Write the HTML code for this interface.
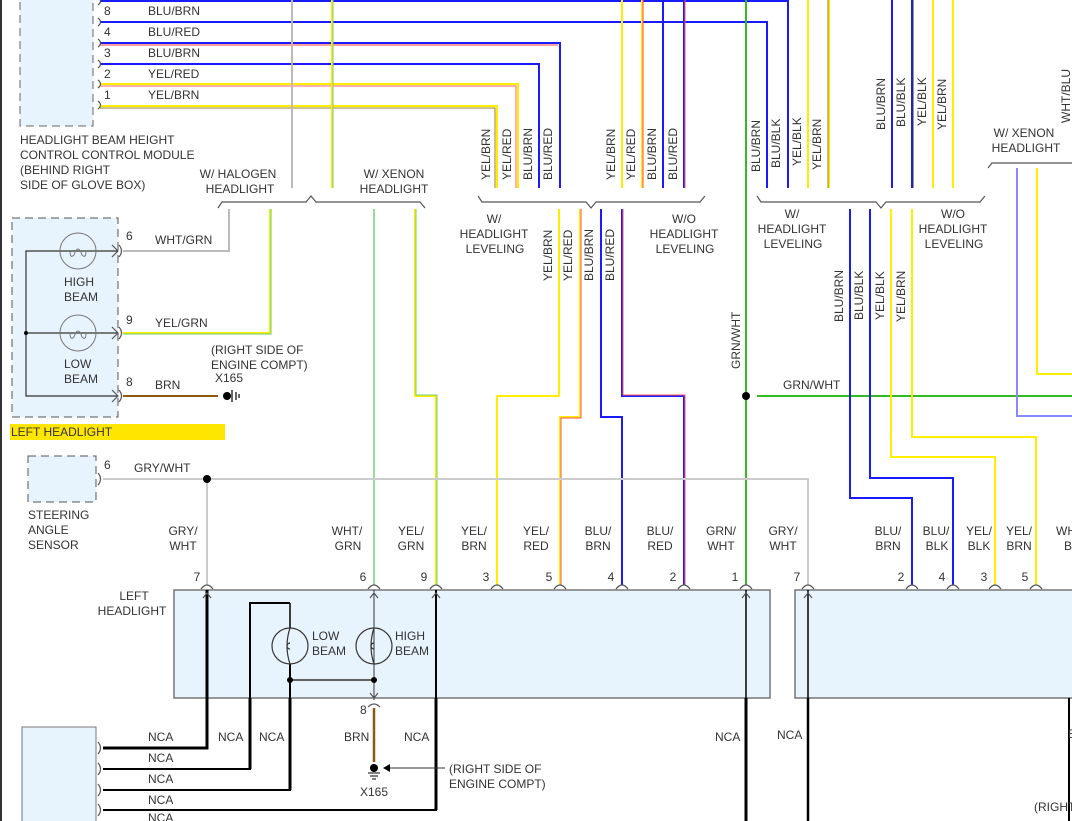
<!DOCTYPE html>
<html><head><meta charset="utf-8"><style>
html,body{margin:0;padding:0;background:#fff;}
svg{display:block;font-family:"Liberation Sans",sans-serif;font-size:12px;fill:#333;}
</style></head><body>
<svg width="1072" height="821" viewBox="0 0 1072 821" xmlns="http://www.w3.org/2000/svg">
<rect x="0" y="0" width="1072" height="821" fill="#fff"/>
<line x1="1" y1="0" x2="1" y2="821" stroke="#333" stroke-width="2"/>
<!-- boxes -->
<rect x="20" y="-2" width="73" height="128" fill="#e8f4fd" stroke="#666" stroke-dasharray="8,5"/>
<rect x="12" y="218" width="106" height="199" fill="#e8f4fd" stroke="#555" stroke-dasharray="8,5"/>
<rect x="28" y="456" width="68" height="46" fill="#e8f4fd" stroke="#555" stroke-dasharray="8,5"/>
<rect x="174" y="590" width="596" height="108" fill="#e8f4fd" stroke="#777" stroke-width="1.5"/>
<rect x="795" y="590" width="290" height="108" fill="#e8f4fd" stroke="#777" stroke-width="1.5"/>
<rect x="22" y="727" width="74" height="100" fill="#e8f4fd" stroke="#777"/>
<rect x="10" y="424" width="215" height="16" fill="#ffe600"/>
<g fill="none" stroke-width="2">
<!-- top horizontal wires -->
<polyline points="100,1 788,1 788,188" stroke="#1a1aff"/>
<polyline points="100,22 767,22 767,188" stroke="#1a1aff"/>
<polyline points="100,43 560,43 560,188" stroke="#1a1aff"/>
<polyline points="100,45 558,45" stroke="#ff4040" stroke-width="1"/>
<polyline points="100,64 539,64 539,188" stroke="#1a1aff"/>
<polyline points="100,84 518,84 518,188" stroke="#ffee00"/>
<polyline points="100,86 516,86 516,188" stroke="#ff6060" stroke-width="1"/>
<polyline points="100,106 497,106 497,188" stroke="#ffee00"/>
<polyline points="100,108 495,108 495,188" stroke="#a08020" stroke-width="1"/>
<line x1="292" y1="0" x2="292" y2="188" stroke="#bbb"/>
<line x1="332" y1="0" x2="332" y2="188" stroke="#ffee00"/>
<line x1="333" y1="0" x2="333" y2="188" stroke="#7c7" stroke-width="1"/>
<line x1="622" y1="0" x2="622" y2="188" stroke="#ffee00"/>
<line x1="642" y1="0" x2="642" y2="188" stroke="#ffee00"/>
<line x1="643" y1="0" x2="643" y2="188" stroke="#f44" stroke-width="1"/>
<line x1="663" y1="0" x2="663" y2="188" stroke="#1a1aff"/>
<line x1="684" y1="0" x2="684" y2="188" stroke="#1a1aff"/>
<line x1="685" y1="0" x2="685" y2="188" stroke="#f55" stroke-width="1"/>
<line x1="808" y1="0" x2="808" y2="188" stroke="#ffee00"/>
<line x1="829" y1="0" x2="829" y2="188" stroke="#ffee00"/>
<line x1="828" y1="0" x2="828" y2="188" stroke="#a08020" stroke-width="1"/>
<line x1="892" y1="0" x2="892" y2="188" stroke="#1a1aff"/>
<line x1="912" y1="0" x2="912" y2="188" stroke="#1a1aff"/>
<line x1="913" y1="0" x2="913" y2="188" stroke="#333" stroke-width="1"/>
<line x1="933" y1="0" x2="933" y2="188" stroke="#ffee00"/>
<line x1="953" y1="0" x2="953" y2="188" stroke="#ffee00"/>
<!-- green GRN/WHT -->
<line x1="746" y1="0" x2="746" y2="585" stroke="#33bb22"/>
<line x1="757" y1="396" x2="1072" y2="396" stroke="#33bb22"/>
<!-- halogen -->
<polyline points="229,209 229,251 123,251" stroke="#bbb"/>
<polyline points="270,209 270,333 123,333" stroke="#ffee00"/>
<polyline points="271,209 271,334 123,334" stroke="#6c6" stroke-width="1"/>
<polyline points="123,396 218,396" stroke="#8b5a10"/>
<!-- xenon -->
<line x1="374" y1="209" x2="374" y2="585" stroke="#99dd99"/>
<polyline points="415,209 415,396 436,396 436,585" stroke="#ffee00"/>
<polyline points="416,209 416,395 437,395 437,585" stroke="#7c7" stroke-width="1"/>
<!-- group 2 lower -->
<polyline points="559,209 559,396 497,396 497,585" stroke="#ffee00"/>
<polyline points="580,209 580,417 560,417 560,585" stroke="#ffee00"/>
<polyline points="581,209 581,418 561,418 561,585" stroke="#f55" stroke-width="1"/>
<polyline points="601,209 601,417 622,417 622,585" stroke="#1a1aff"/>
<polyline points="622,209 622,396 684,396 684,585" stroke="#1a1aff"/>
<polyline points="623,209 623,395 685,395 685,585" stroke="#f55" stroke-width="1"/>
<!-- group 3 lower -->
<polyline points="850,209 850,498 912,498 912,585" stroke="#1a1aff"/>
<polyline points="870,209 870,478 953,478 953,585" stroke="#1a1aff"/>
<polyline points="891,209 891,457 995,457 995,585" stroke="#ffee00"/>
<polyline points="912,209 912,437 1036,437 1036,585" stroke="#ffee00"/>
<polyline points="1017,168 1017,416 1072,416" stroke="#8888ff"/>
<polyline points="1037,168 1037,374 1072,374" stroke="#ffee00"/>
<!-- gry/wht -->
<polyline points="103,479 808,479 808,585" stroke="#ccc"/>
<line x1="207" y1="479" x2="207" y2="585" stroke="#ccc"/>
<!-- braces -->
<polyline points="218,208 222,202 306,202 311,196 316,202 420,202 425,208" stroke="#555" stroke-width="1.2"/>
<polyline points="478,196 482,202 586,202 591,208 596,202 700,202 705,196" stroke="#555" stroke-width="1.2"/>
<polyline points="757,196 761,202 876,202 881,208 886,202 980,202 985,196" stroke="#555" stroke-width="1.2"/>
<polyline points="988,168 992,163 1072,163" stroke="#555" stroke-width="1.2"/>
<!-- black wires bottom -->
<polyline points="207,590 207,748 103,748" stroke="#000" stroke-width="3"/>
<polyline points="290,603 250,603 250,769 103,769" stroke="#000" stroke-width="2"/>
<polyline points="290,603 290,628" stroke="#000" stroke-width="1.5"/>
<polyline points="290,664 290,790 103,790" stroke="#000" stroke-width="2"/>
<polyline points="436,590 436,810 103,810" stroke="#000" stroke-width="2"/>
<line x1="207" y1="698" x2="207" y2="748" stroke="#000" stroke-width="3"/>
<line x1="250" y1="698" x2="250" y2="769" stroke="#000" stroke-width="3"/>
<line x1="290" y1="698" x2="290" y2="790" stroke="#000" stroke-width="3"/>
<line x1="436" y1="698" x2="436" y2="810" stroke="#000" stroke-width="3"/>
<line x1="746" y1="590" x2="746" y2="821" stroke="#000" stroke-width="1.5"/>
<line x1="746" y1="698" x2="746" y2="821" stroke="#000" stroke-width="3"/>
<line x1="808" y1="590" x2="808" y2="821" stroke="#000" stroke-width="1.5"/>
<line x1="808" y1="698" x2="808" y2="821" stroke="#000" stroke-width="2.5"/>
<line x1="1069" y1="698" x2="1069" y2="821" stroke="#000" stroke-width="2"/>
<polyline points="290,680 374,680" stroke="#333" stroke-width="1.5"/>
<line x1="374" y1="590" x2="374" y2="700" stroke="#333" stroke-width="1"/>
<line x1="374" y1="708" x2="374" y2="762" stroke="#8b5a10" stroke-width="2.5"/>
<!-- left headlight internals -->
<polyline points="118,251 26,251 26,396 118,396" stroke="#333" stroke-width="1.2"/>
<line x1="26" y1="333" x2="118" y2="333" stroke="#333" stroke-width="1.2"/>
</g>
<!-- bulbs -->
<g fill="none" stroke="#777" stroke-width="1">
<circle cx="78" cy="251" r="18"/><circle cx="78" cy="333" r="18"/>
<path d="M70,251 q0,8 4,4 q4,-12 8,0 q4,4 4,-4" />
<path d="M70,333 q0,8 4,4 q4,-12 8,0 q4,4 4,-4" />
</g>
<g fill="none" stroke="#333" stroke-width="1.2">
<circle cx="290" cy="646" r="18"/><circle cx="374" cy="646" r="18"/>
<path d="M290,628 q-6,18 0,36 M290,643 a3,3 0 1,0 0.1,6"/>
<path d="M374,628 q-6,18 0,36 M374,643 a3,3 0 1,0 0.1,6"/>
</g>
<!-- connector ticks -->
<g fill="none" stroke="#555" stroke-width="1.2">
<path d="M98,-3 q5,4 0,8 M98,18 q5,4 0,8 M98,39 q5,4 0,8 M98,60 q5,4 0,8 M98,80 q5,4 0,8 M98,101 q5,4 0,8"/>
<path d="M119,245 q5,6 0,12 M119,327 q5,6 0,12 M119,390 q5,6 0,12 M98,473 q5,6 0,12"/>
<path d="M112,245 l6,6 l-6,6 M112,327 l6,6 l-6,6 M112,390 l6,6 l-6,6"/>
<path d="M98,742 q5,6 0,12 M98,763 q5,6 0,12 M98,784 q5,6 0,12 M98,804 q5,6 0,12"/>
<g id="pins">
<path d="M201,589 q6,-8 12,0 M368,589 q6,-8 12,0 M430,589 q6,-8 12,0 M491,589 q6,-8 12,0 M554,589 q6,-8 12,0 M616,589 q6,-8 12,0 M678,589 q6,-8 12,0 M740,589 q6,-8 12,0 M802,589 q6,-8 12,0 M906,589 q6,-8 12,0 M947,589 q6,-8 12,0 M989,589 q6,-8 12,0 M1030,589 q6,-8 12,0"/>
</g>
<path d="M203,598 l4,-5 l4,5 M370,598 l4,-5 l4,5 M432,598 l4,-5 l4,5 M742,598 l4,-5 l4,5 M804,598 l4,-5 l4,5 M370,693 l4,5 l4,-5 M368,707 q6,-6 12,0"/>
</g>
<!-- dots & grounds -->
<circle cx="207" cy="479" r="4" fill="#000"/>
<circle cx="746" cy="396" r="4" fill="#000"/>
<circle cx="290" cy="680" r="3" fill="#000"/>
<circle cx="374" cy="680" r="3" fill="#000"/>
<circle cx="26" cy="333" r="2" fill="#000"/>
<circle cx="227" cy="396" r="4" fill="#000"/>
<path d="M232,390 v12 M236,392 v8 M239,394 v4" stroke="#000" stroke-width="1.2"/>
<circle cx="374" cy="768" r="4" fill="#000"/>
<path d="M368,773 h12 M370,776 h8 M372,779 h4" stroke="#000"/>
<path d="M388,768 h57" stroke="#333"/><path d="M383,768 l7,-4 v8 z" fill="#000"/>
<!-- text -->
<g>
<text x="104" y="15">8</text><text x="148" y="15">BLU/BRN</text>
<text x="104" y="36">4</text><text x="148" y="36">BLU/RED</text>
<text x="104" y="57">3</text><text x="148" y="57">BLU/BRN</text>
<text x="104" y="78">2</text><text x="148" y="78">YEL/RED</text>
<text x="104" y="99">1</text><text x="148" y="99">YEL/BRN</text>
<text x="20" y="144">HEADLIGHT BEAM HEIGHT</text>
<text x="20" y="159">CONTROL CONTROL MODULE</text>
<text x="20" y="174">(BEHIND RIGHT</text>
<text x="20" y="189">SIDE OF GLOVE BOX)</text>
<text x="238" y="178" text-anchor="middle">W/ HALOGEN</text><text x="240" y="193" text-anchor="middle">HEADLIGHT</text>
<text x="394" y="178" text-anchor="middle">W/ XENON</text><text x="394" y="193" text-anchor="middle">HEADLIGHT</text>
<text x="494" y="223" text-anchor="middle">W/</text><text x="494" y="238" text-anchor="middle">HEADLIGHT</text><text x="495" y="253" text-anchor="middle">LEVELING</text>
<text x="684" y="223" text-anchor="middle">W/O</text><text x="684" y="238" text-anchor="middle">HEADLIGHT</text><text x="685" y="253" text-anchor="middle">LEVELING</text>
<text x="792" y="218" text-anchor="middle">W/</text><text x="792" y="233" text-anchor="middle">HEADLIGHT</text><text x="793" y="248" text-anchor="middle">LEVELING</text>
<text x="953" y="218" text-anchor="middle">W/O</text><text x="953" y="233" text-anchor="middle">HEADLIGHT</text><text x="954" y="248" text-anchor="middle">LEVELING</text>
<text x="1024" y="137" text-anchor="middle">W/ XENON</text><text x="1026" y="152" text-anchor="middle">HEADLIGHT</text>
<text x="126" y="240">6</text><text x="155" y="244">WHT/GRN</text>
<text x="126" y="324">9</text><text x="155" y="327">YEL/GRN</text>
<text x="126" y="386">8</text><text x="155" y="389">BRN</text>
<text x="64" y="286">HIGH</text><text x="64" y="301">BEAM</text>
<text x="64" y="368">LOW</text><text x="64" y="383">BEAM</text>
<text x="211" y="354">(RIGHT SIDE OF</text><text x="211" y="369">ENGINE COMPT)</text><text x="215" y="382">X165</text>
<text x="11" y="436">LEFT HEADLIGHT</text>
<text x="104" y="469">6</text><text x="134" y="472">GRY/WHT</text>
<text x="28" y="519">STEERING</text><text x="28" y="534">ANGLE</text><text x="28" y="549">SENSOR</text>
<text x="783" y="389">GRN/WHT</text>
<text x="134" y="600" text-anchor="middle">LEFT</text><text x="132" y="615" text-anchor="middle">HEADLIGHT</text>
<text x="312" y="640">LOW</text><text x="312" y="655">BEAM</text>
<text x="395" y="640">HIGH</text><text x="395" y="655">BEAM</text>
<text x="360" y="714">8</text><text x="344" y="741">BRN</text>
<text x="360" y="796">X165</text>
<text x="449" y="773">(RIGHT SIDE OF</text><text x="449" y="788">ENGINE COMPT)</text>
<text x="148" y="741">NCA</text><text x="148" y="762">NCA</text><text x="148" y="783">NCA</text><text x="148" y="804">NCA</text><text x="148" y="822">NCA</text>
<text x="218" y="741">NCA</text><text x="259" y="741">NCA</text><text x="404" y="741">NCA</text><text x="715" y="741">NCA</text><text x="777" y="739">NCA</text>
<text x="1068" y="738">B</text><text x="1034" y="811">(RIGHT</text>
</g>
<g text-anchor="middle">
<text x="183" y="535">GRY/</text><text x="183" y="550">WHT</text>
<text x="347" y="535">WHT/</text><text x="348" y="550">GRN</text>
<text x="411" y="535">YEL/</text><text x="411" y="550">GRN</text>
<text x="474" y="535">YEL/</text><text x="474" y="550">BRN</text>
<text x="536" y="535">YEL/</text><text x="536" y="550">RED</text>
<text x="598" y="535">BLU/</text><text x="598" y="550">BRN</text>
<text x="660" y="535">BLU/</text><text x="660" y="550">RED</text>
<text x="721" y="535">GRN/</text><text x="721" y="550">WHT</text>
<text x="783" y="535">GRY/</text><text x="783" y="550">WHT</text>
<text x="888" y="535">BLU/</text><text x="888" y="550">BRN</text>
<text x="936" y="535">BLU/</text><text x="937" y="550">BLK</text>
<text x="979" y="535">YEL/</text><text x="979" y="550">BLK</text>
<text x="1019" y="535">YEL/</text><text x="1019" y="550">BRN</text>
<text x="1066" y="535">WH</text><text x="1068" y="550">B</text>
<text x="197" y="581">7</text><text x="363" y="581">6</text><text x="424" y="581">9</text><text x="486" y="581">3</text><text x="549" y="581">5</text><text x="611" y="581">4</text><text x="673" y="581">2</text><text x="735" y="581">1</text><text x="797" y="581">7</text><text x="901" y="581">2</text><text x="942" y="581">4</text><text x="984" y="581">3</text><text x="1025" y="581">5</text>
</g>
<!-- rotated labels -->
<g font-size="12">
<text transform="translate(490,180) rotate(-90)">YEL/BRN</text>
<text transform="translate(511,180) rotate(-90)">YEL/RED</text>
<text transform="translate(532,180) rotate(-90)">BLU/BRN</text>
<text transform="translate(552,180) rotate(-90)">BLU/RED</text>
<text transform="translate(615,180) rotate(-90)">YEL/BRN</text>
<text transform="translate(635,180) rotate(-90)">YEL/RED</text>
<text transform="translate(656,180) rotate(-90)">BLU/BRN</text>
<text transform="translate(677,180) rotate(-90)">BLU/RED</text>
<text transform="translate(760,172) rotate(-90)">BLU/BRN</text>
<text transform="translate(780,168) rotate(-90)">BLU/BLK</text>
<text transform="translate(801,166) rotate(-90)">YEL/BLK</text>
<text transform="translate(821,170) rotate(-90)">YEL/BRN</text>
<text transform="translate(885,130) rotate(-90)">BLU/BRN</text>
<text transform="translate(905,127) rotate(-90)">BLU/BLK</text>
<text transform="translate(926,126) rotate(-90)">YEL/BLK</text>
<text transform="translate(946,130) rotate(-90)">YEL/BRN</text>
<text transform="translate(552,281) rotate(-90)">YEL/BRN</text>
<text transform="translate(572,281) rotate(-90)">YEL/RED</text>
<text transform="translate(593,281) rotate(-90)">BLU/BRN</text>
<text transform="translate(614,281) rotate(-90)">BLU/RED</text>
<text transform="translate(843,322) rotate(-90)">BLU/BRN</text>
<text transform="translate(863,320) rotate(-90)">BLU/BLK</text>
<text transform="translate(884,320) rotate(-90)">YEL/BLK</text>
<text transform="translate(905,322) rotate(-90)">YEL/BRN</text>
<text transform="translate(740,369) rotate(-90)">GRN/WHT</text>
<text transform="translate(1070,123) rotate(-90)">WHT/BLU</text>
</g>
</svg>
</body></html>
